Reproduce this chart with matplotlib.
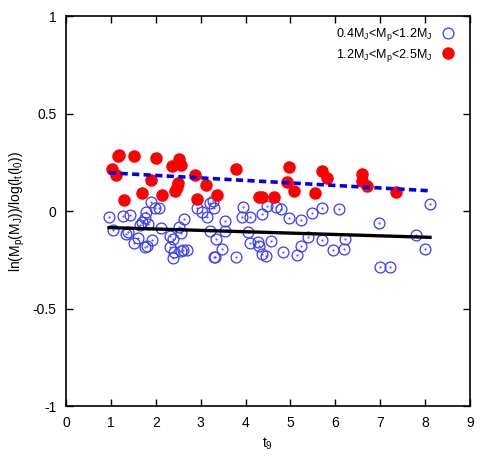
import numpy as np
import matplotlib
matplotlib.use("Agg")
import matplotlib.pyplot as plt

plt.rcParams['font.family'] = ['Liberation Sans', 'DejaVu Sans']
plt.rcParams['mathtext.fontset'] = 'custom'
plt.rcParams['mathtext.rm'] = 'Liberation Sans'
plt.rcParams['mathtext.it'] = 'Liberation Sans'

#  Low mass sample (0.4 MJ < Mp < 1.2 MJ)
t9_low = [0.958, 1.040, 1.276, 1.426, 1.337, 1.381, 1.526, 1.597, 1.648, 1.682,
          1.760, 1.782, 1.816, 1.767, 1.800, 1.887, 1.916, 1.983, 2.072, 2.116,
          2.317, 2.328, 2.377, 2.390, 2.413, 2.524, 2.555, 2.562, 2.606, 2.635,
          2.695, 2.929, 3.030, 3.134, 3.208, 3.268, 3.304, 3.208, 3.341, 3.486,
          3.326, 3.286, 3.542, 3.542, 3.787, 3.950, 3.928, 4.099, 4.048, 4.099,
          4.277, 4.306, 4.373, 4.449, 4.360, 4.471, 4.678, 4.783, 4.567, 4.827,
          4.968, 5.146, 5.242, 5.235, 5.398, 5.480, 5.710, 5.696, 5.955, 6.088,
          6.208, 6.200, 6.966, 6.995, 7.218, 7.797, 7.997, 8.109]
ratio_low = [-0.029, -0.097, -0.026, -0.018, -0.119, -0.108, -0.166, -0.137, -0.072, -0.055,
             -0.037, -0.006, -0.068, -0.183, -0.180, 0.044, -0.149, 0.015, 0.015, -0.089,
             -0.128, -0.183, -0.243, -0.145, -0.209, -0.081, -0.114, -0.205, -0.200, -0.041,
             -0.200, 0.018, -0.006, -0.032, 0.039, 0.053, 0.016, -0.100, -0.146, -0.193,
             -0.234, -0.236, -0.051, -0.104, -0.234, 0.021, -0.029, -0.032, -0.109, -0.166,
             -0.157, -0.179, -0.221, -0.231, -0.017, 0.027, 0.022, 0.009, -0.152, -0.212,
             -0.037, -0.226, -0.046, -0.178, -0.132, -0.009, 0.017, -0.149, -0.200, 0.009,
             -0.145, -0.195, -0.060, -0.289, -0.289, -0.123, -0.193, 0.034]

#  High mass sample (1.2 MJ < Mp < 2.5 MJ)
t9_high = [1.018, 1.107, 1.150, 1.174, 1.526, 2.005, 1.900, 1.682, 1.281, 2.145,
           2.355, 2.524, 2.562, 2.500, 2.466, 2.428, 2.874, 3.108, 2.925, 3.370,
           3.798, 4.306, 4.360, 4.638, 4.974, 4.916, 5.079, 5.547, 5.696, 5.821,
           6.594, 6.587, 6.699, 7.351]
ratio_high = [0.214, 0.187, 0.280, 0.286, 0.281, 0.272, 0.159, 0.091, 0.054, 0.082,
              0.232, 0.266, 0.236, 0.142, 0.122, 0.105, 0.186, 0.131, 0.063, 0.082,
              0.214, 0.070, 0.073, 0.074, 0.227, 0.150, 0.103, 0.092, 0.204, 0.167,
              0.189, 0.155, 0.130, 0.095]

#  Linear fits (intercept, slope)
fit_low = (-0.0783, -0.0070)
fit_high = (0.2084, -0.0129)

fig = plt.figure(figsize=(4.94, 4.63), dpi=100)
ax = fig.add_axes([0.1336, 0.1231, 0.8178, 0.8423])

ax.plot(t9_low, ratio_low, linestyle='none', marker='o', markersize=7.8,
        markerfacecolor='none', markeredgecolor='#3a3aff', markeredgewidth=0.9,
        label=r'0.4M$_\mathregular{J}$<M$_\mathregular{p}$<1.2M$_\mathregular{J}$')
ax.plot(t9_low, ratio_low, linestyle='none', marker='.', markersize=1.0,
        color='#3a3aff')
ax.plot(t9_high, ratio_high, linestyle='none', marker='o', markersize=8.0,
        markerfacecolor='#ff0000', markeredgecolor='#ff0000',
        label=r'1.2M$_\mathregular{J}$<M$_\mathregular{p}$<2.5M$_\mathregular{J}$')

xfit = np.linspace(min(t9_low), max(t9_low), 50)
ax.plot(xfit, fit_high[0] + fit_high[1] * xfit, color='#0000ee', linewidth=2.6,
        dashes=(2.0, 1.2))
ax.plot(xfit, fit_low[0] + fit_low[1] * xfit, color='black', linewidth=2.4)

ax.set_xlim(0, 9)
ax.set_ylim(-1, 1)
ax.set_xticks(range(0, 10))
ax.set_yticks([-1, -0.5, 0, 0.5, 1])
ax.set_yticklabels(['-1', '-0.5', '0', '0.5', '1'])
ax.tick_params(direction='in', top=True, right=True, length=5, width=1,
               labelsize=10, pad=7)
for s in ax.spines.values():
    s.set_linewidth(1.2)

ax.set_xlabel(r't$_\mathregular{9}$', fontsize=10, labelpad=4)
ax.set_ylabel(r'ln(M$_\mathregular{p}$(M$_\mathregular{J}$))/log(l$_\mathregular{t}$(l$_\mathregular{0}$))',
              fontsize=10, labelpad=4)

ax.legend(loc='upper right', bbox_to_anchor=(0.985, 1.0), frameon=False,
          markerfirst=False, fontsize=9, handlelength=1.0, handletextpad=0.7,
          labelspacing=0.3, borderaxespad=0.4)

fig.savefig('out.png', dpi=100)
